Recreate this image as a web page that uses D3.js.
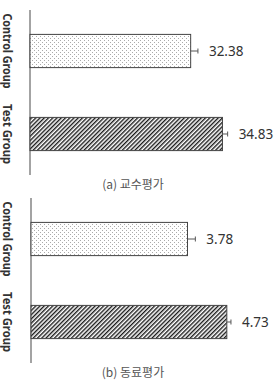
<!DOCTYPE html>
<html>
<head>
<meta charset="utf-8">
<script src="https://cdn.jsdelivr.net/npm/d3@7"></script>
<style>
  body { margin: 0; background: #fff; }
  svg { display: block; }
</style>
</head>
<body>
<svg id="chart" width="276" height="382"></svg>
<script>
// data
const groups = ["Control Group", "Test Group"];
const groupLabelWidths = [75, 60];
const profValues = [32.38, 34.83];     // (a) 교수평가
const profErrors = [0.56, 0.4];
const peerValues = [3.78, 4.73];       // (b) 동료평가
const peerErrors = [0.19, 0.1];
const captions = ["(a) 교수평가", "(b) 동료평가"];

const svg = d3.select("#chart");

// patterns
const defs = svg.append("defs");
const dots = defs.append("pattern")
    .attr("id", "dots")
    .attr("patternUnits", "userSpaceOnUse")
    .attr("width", 4).attr("height", 4);
dots.append("rect").attr("width", 4).attr("height", 4).attr("fill", "#fff");
dots.append("rect").attr("x", 0).attr("y", 0).attr("width", 1).attr("height", 1).attr("fill", "#aaa");
dots.append("rect").attr("x", 2).attr("y", 2).attr("width", 1).attr("height", 1).attr("fill", "#aaa");

const hatch = defs.append("pattern")
    .attr("id", "hatch")
    .attr("patternUnits", "userSpaceOnUse")
    .attr("width", 3).attr("height", 3)
    .attr("patternTransform", "rotate(45)");
hatch.append("rect").attr("width", 3).attr("height", 3).attr("fill", "#fff");
hatch.append("line")
    .attr("x1", 0).attr("y1", 0).attr("x2", 0).attr("y2", 3)
    .attr("stroke", "#1a1a1a").attr("stroke-width", 2.8);

const fills = ["url(#dots)", "url(#hatch)"];

function drawPanel(offsetY, values, errors, domain, range, caption) {
  const g = svg.append("g").attr("transform", "translate(0," + offsetY + ")");

  const x = d3.scaleLinear().domain(domain).range(range);
  const y = d3.scaleBand().domain(groups).range([10, 175])
      .paddingInner(0.6).paddingOuter(0.294);

  const data = groups.map((name, i) => ({name: name, value: values[i], err: errors[i], i: i}));

  // axis line
  g.append("line")
      .attr("x1", range[0]).attr("x2", range[0])
      .attr("y1", 10).attr("y2", 175)
      .attr("stroke", "#666").attr("stroke-width", 1.2);

  // group labels (rotated)
  g.selectAll(".glabel")
    .data(data)
    .enter().append("text")
      .attr("class", "glabel")
      .attr("transform", d => "translate(8," + (y(d.name) + y.bandwidth() / 2) + ") rotate(90)")
      .attr("text-anchor", "middle")
      .attr("dy", "0.35em")
      .attr("font-family", "'Noto Sans', sans-serif")
      .attr("font-weight", "bold")
      .attr("font-size", "13px")
      .attr("textLength", d => groupLabelWidths[d.i])
      .attr("lengthAdjust", "spacingAndGlyphs")
      .attr("fill", "#333")
      .text(d => d.name);

  // bars
  g.selectAll(".bar")
    .data(data)
    .enter().append("rect")
      .attr("class", "bar")
      .attr("x", x(domain[0]))
      .attr("y", d => y(d.name))
      .attr("width", d => x(d.value) - x(domain[0]))
      .attr("height", y.bandwidth())
      .attr("fill", d => fills[d.i])
      .attr("stroke", "#444")
      .attr("stroke-width", 1);

  // error whiskers
  const eb = g.selectAll(".err").data(data).enter().append("g").attr("class", "err");
  eb.append("line")
      .attr("x1", d => x(d.value)).attr("x2", d => x(d.value + d.err))
      .attr("y1", d => y(d.name) + y.bandwidth() / 2)
      .attr("y2", d => y(d.name) + y.bandwidth() / 2)
      .attr("stroke", "#555");
  eb.append("line")
      .attr("x1", d => x(d.value + d.err)).attr("x2", d => x(d.value + d.err))
      .attr("y1", d => y(d.name) + y.bandwidth() / 2 - 2.5)
      .attr("y2", d => y(d.name) + y.bandwidth() / 2 + 2.5)
      .attr("stroke", "#555");

  // value labels
  g.selectAll(".vlabel")
    .data(data)
    .enter().append("text")
      .attr("class", "vlabel")
      .attr("x", d => x(d.value + d.err) + 11)
      .attr("y", d => y(d.name) + y.bandwidth() / 2)
      .attr("dy", "0.35em")
      .attr("font-family", "'Noto Sans', sans-serif")
      .attr("font-size", "13.5px")
      .attr("fill", "#333")
      .text(d => d.value.toFixed(2));

  // caption
  g.append("text")
      .attr("x", 133)
      .attr("y", 185)
      .attr("dy", "0.35em")
      .attr("text-anchor", "middle")
      .attr("font-family", "'Noto Sans CJK KR', sans-serif")
      .attr("font-size", "12px")
      .attr("fill", "#555")
      .text(caption);
}

drawPanel(0, profValues, profErrors, [20, 38], [30, 263.6], captions[0]);
drawPanel(188, peerValues, peerErrors, [0, 5.5], [31, 258.7], captions[1]);
</script>
</body>
</html>
